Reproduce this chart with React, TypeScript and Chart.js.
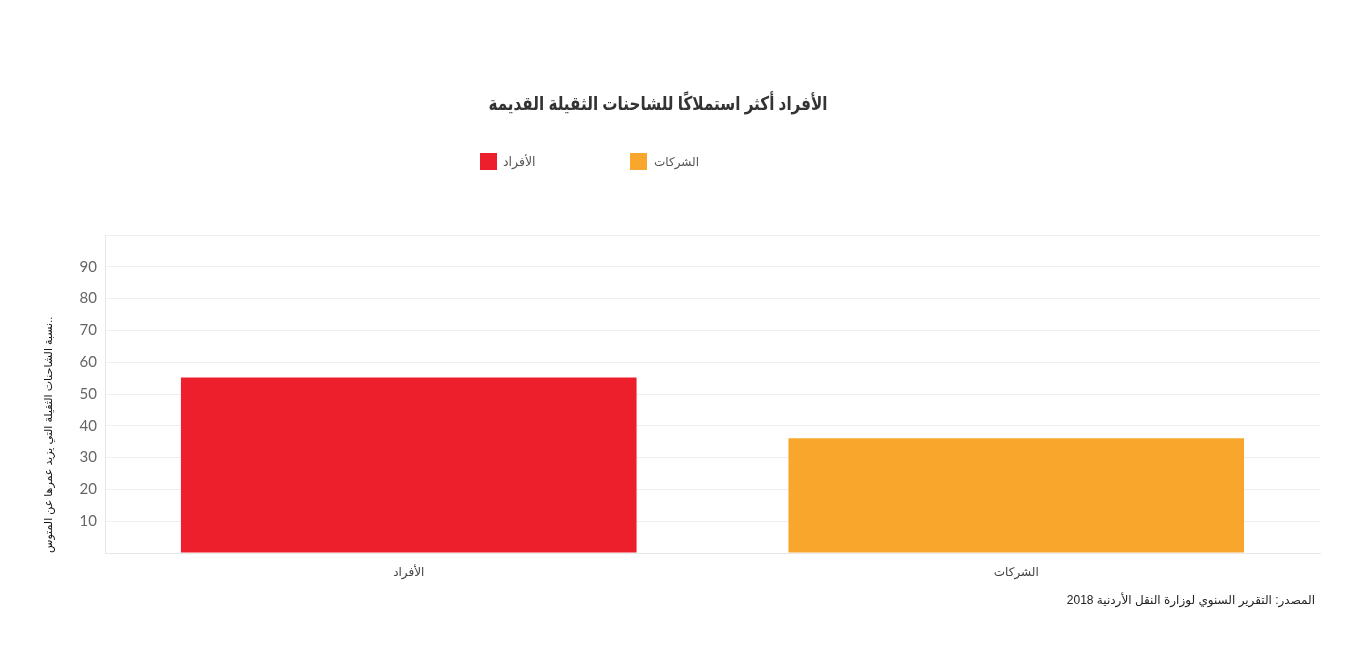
import React, { useEffect, useRef } from "react";
import { Chart, registerables } from "chart.js";

Chart.register(...registerables);

const categories = ["الأفراد", "الشركات"];
const values = [55.2, 36.1];
const colors = ["#ed1f2c", "#f8a72c"];
const yTicks = [0, 10, 20, 30, 40, 50, 60, 70, 80, 90, 100];
const titleText = "الأفراد أكثر استملاكًا للشاحنات الثقيلة القديمة";
const yTitleText = "نسبة الشاحنات الثقيلة التي يزيد عمرها عن المتوس..";
const sourceText = "المصدر: التقرير السنوي لوزارة النقل الأردنية  2018";

const FONT = "'Liberation Sans', 'DejaVu Sans', Arial, sans-serif";

export default function App() {
  const ref = useRef<HTMLCanvasElement | null>(null);

  useEffect(() => {
    if (!ref.current) return;
    const chart = new Chart(ref.current, {
      type: "bar",
      data: {
        labels: categories,
        datasets: [
          {
            data: values,
            backgroundColor: colors,
            borderWidth: 0,
            barPercentage: 0.75,
            categoryPercentage: 1,
          },
        ],
      },
      options: {
        animation: false,
        responsive: false,
        layout: { padding: { left: 42, right: 47, top: 235, bottom: 0 } },
        plugins: {
          legend: { display: false },
          tooltip: { enabled: false },
          title: { display: false },
        },
        scales: {
          x: {
            grid: { display: false },
            border: { display: true, color: "#e8e8e8" },
            ticks: {
              color: "#444",
              font: { family: FONT, size: 12 },
              padding: 4,
            },
            afterFit: (s: any) => {
              s.height = 97;
            },
          },
          y: {
            min: 0,
            max: 100,
            afterBuildTicks: (s: any) => {
              s.ticks = yTicks.map((v) => ({ value: v }));
            },
            grid: { color: "#efefef", drawTicks: false },
            border: { display: true, color: "#e8e8e8" },
            ticks: {
              color: "#666",
              font: { family: "Lato, 'DejaVu Sans', sans-serif", size: 15 },
              padding: 8,
              callback: (v: any) => (v === 0 || v === 100 ? "" : String(v)),
            },
            title: {
              display: true,
              text: yTitleText,
              align: "start",
              color: "#111",
              font: { family: FONT, size: 11 },
              padding: { top: 0, bottom: 0 },
            },
            afterFit: (s: any) => {
              s.width = 63;
            },
          },
        },
      },
    });
    return () => chart.destroy();
  }, []);

  return (
    <div
      style={{
        position: "fixed",
        left: 0,
        top: 0,
        width: 1367,
        height: 650,
        background: "#fff",
        fontFamily: FONT,
      }}
    >
      <canvas ref={ref} width={1367} height={650} style={{ position: "absolute", left: 0, top: 0 }} />
      <div
        dir="rtl"
        style={{
          position: "absolute",
          top: 92,
          left: 0,
          width: 1316,
          textAlign: "center",
          fontSize: 19,
          fontWeight: "bold",
          color: "#333",
          transform: "scaleX(0.8)",
          transformOrigin: "658px 0",
        }}
      >
        {titleText}
      </div>
      <div style={{ position: "absolute", top: 153, left: 480, display: "flex", alignItems: "center", fontSize: 12.5, color: "#555" }}>
        <span style={{ display: "inline-block", width: 17, height: 17, background: colors[0], marginRight: 6 }} />
        <span>{categories[0]}</span>
      </div>
      <div style={{ position: "absolute", top: 153, left: 630, display: "flex", alignItems: "center", fontSize: 12, color: "#555" }}>
        <span style={{ display: "inline-block", width: 17, height: 17, background: colors[1], marginRight: 7 }} />
        <span>{categories[1]}</span>
      </div>
      <div
        dir="rtl"
        style={{
          position: "absolute",
          top: 593,
          right: 52,
          fontSize: 12,
          color: "#222",
          whiteSpace: "nowrap",
        }}
      >
        {sourceText}
      </div>
    </div>
  );
}
